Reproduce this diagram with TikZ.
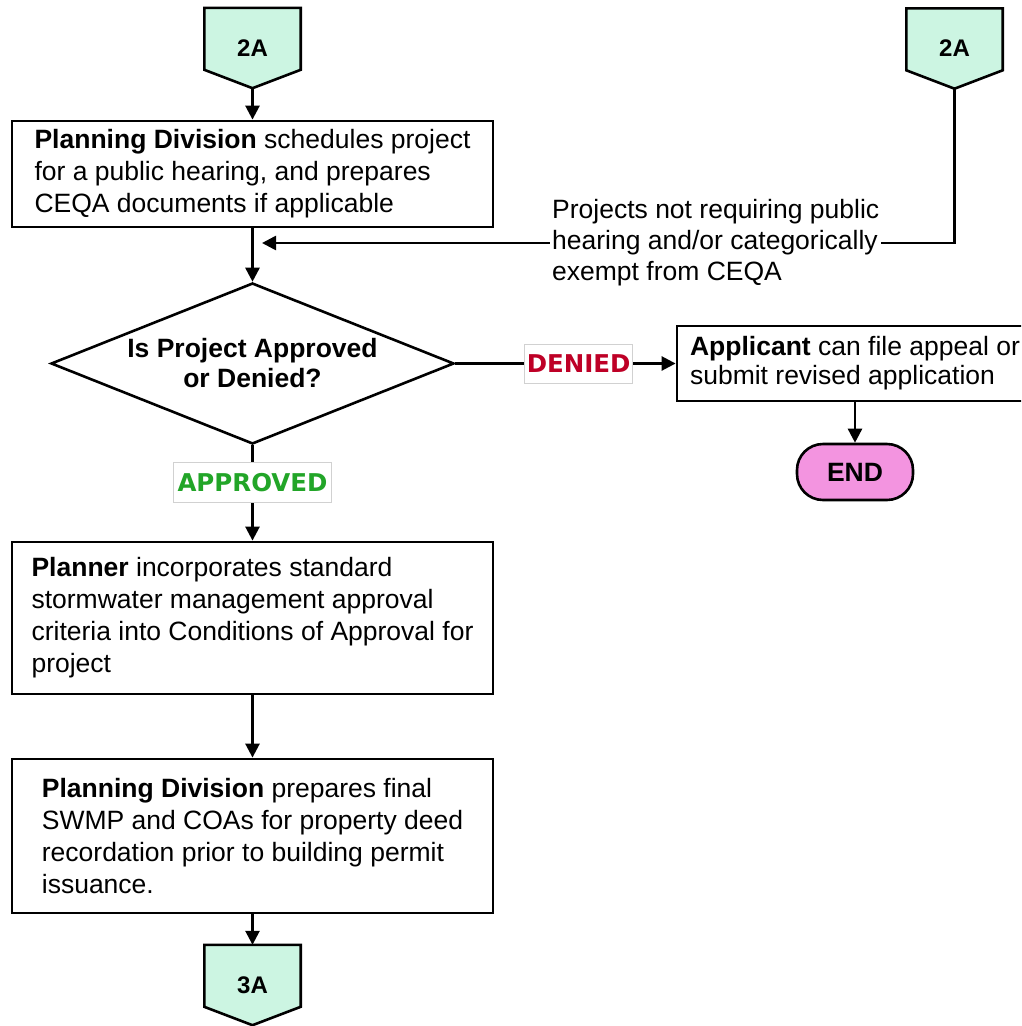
\documentclass[tikz,border=0pt]{standalone}
\usepackage{fontspec}
\setmainfont{Liberation Sans}
\newfontfamily\labelfont{DejaVu Sans}
\usetikzlibrary{arrows.meta,shapes.geometric,backgrounds,calc}

\definecolor{offpagefill}{RGB}{204,245,226}
\definecolor{endpink}{RGB}{243,148,224}
\definecolor{approvegreen}{RGB}{34,165,40}
\definecolor{deniedred}{RGB}{190,0,38}

\tikzset{
  flow/.style={line width=2.6pt, -{Triangle[length=14pt,width=14pt]}},
  stepbox/.style={draw, line width=2.8pt, fill=white, align=left, inner sep=0pt,
    font=\fontsize{26.5}{32}\selectfont},
  offpage/.style={minimum width=96pt, minimum height=80pt, inner sep=0pt,
    font=\bfseries\fontsize{24}{26}\selectfont},
  decision/.style={diamond, draw, line width=2.6pt, inner sep=0pt,
    minimum width=403pt, minimum height=161pt},
  decisiontext/.style={align=center, inner sep=0pt,
    font=\bfseries\fontsize{26.5}{30}\selectfont},
  tag/.style={draw=black!18, line width=0.8pt, fill=white, inner sep=0pt,
    font=\labelfont\bfseries\fontsize{24.5}{26}\selectfont},
  terminal/.style={draw, line width=2.6pt, fill=endpink, rounded corners=26pt,
    minimum width=116pt, minimum height=56pt, inner sep=0pt,
    font=\bfseries\fontsize{26.5}{28}\selectfont},
  note/.style={fill=white, align=left, inner xsep=2pt, inner ysep=2pt,
    font=\fontsize{26.5}{31}\selectfont}
}

% pentagon outline of an off-page connector, pointing down
\newcommand{\offpageshape}[1]{%
  \filldraw[fill=offpagefill, line width=2.6pt, line join=miter]
    (#1.north west) -- (#1.north east) -- ($(#1.north east)+(0,62)$)
    -- (#1.south) -- ($(#1.north west)+(0,62)$) -- cycle;}

\begin{document}
\begin{tikzpicture}[x=1pt,y=-1pt]
\useasboundingbox (0,0) rectangle (1021,1026);
\clip (0,0) rectangle (1021,1026);

% off-page connectors
\node[offpage] (c1) at (252.5,48) {2A};
\node[offpage] (c2) at (954.5,48.5) {2A};
\node[offpage] (c3) at (252.5,985) {3A};
\begin{scope}[on background layer]
  \fill[white] (0,0) rectangle (1021,1026);
  \offpageshape{c1}
  \offpageshape{c2}
  \offpageshape{c3}
\end{scope}

% process boxes
\node[stepbox, minimum width=481pt, minimum height=106pt] (b1) at (252.5,174)
  {\textbf{Planning Division} schedules project\\for a public hearing, and prepares\\CEQA documents if applicable};
\node[decision, label={[decisiontext]center:Is Project Approved\\or Denied?}]
  (dec) at (252.5,363.5) {};
\node[stepbox, minimum width=481pt, minimum height=152pt] (b2) at (252.5,618)
  {\textbf{Planner} incorporates standard\\stormwater management approval\\criteria into Conditions of Approval for\\project};
\node[stepbox, minimum width=481pt, minimum height=154pt] (b3) at (252.5,836)
  {\textbf{Planning Division} prepares final\\SWMP and COAs for property deed\\recordation prior to building permit\\issuance.};
\node[stepbox, minimum width=356pt, minimum height=75pt,
  font=\fontsize{26.5}{29}\selectfont] (b4) at (855,363.5)
  {\textbf{Applicant} can file appeal or\\submit revised application};
\node[terminal] (end) at (855,472) {END};

% bypass route from the second 2A connector
\coordinate (join) at (262,243);
\draw[flow] (c2.south) |- (join);
\node[note, anchor=west] (note) at (550,243)
  {Projects not requiring public\\hearing and/or categorically\\exempt from CEQA};

% main flow
\draw[flow] (c1.south) -- (b1.north);
\draw[flow] (b1.south) -- (dec.north);
\draw[flow] (dec.south) -- node[tag, pos=0.39, text=approvegreen,
  minimum width=158pt, minimum height=40pt] (approved) {APPROVED} (b2.north);
\draw[flow] (b2.south) -- (b3.north);
\draw[flow] (b3.south) -- (c3.north);
\draw[flow] (dec.east) -- node[tag, pos=0.56, text=deniedred,
  minimum width=108pt, minimum height=39pt] (denied) {DENIED} (b4.west);
\draw[flow] (b4.south) -- (end.north);
\end{tikzpicture}
\end{document}
